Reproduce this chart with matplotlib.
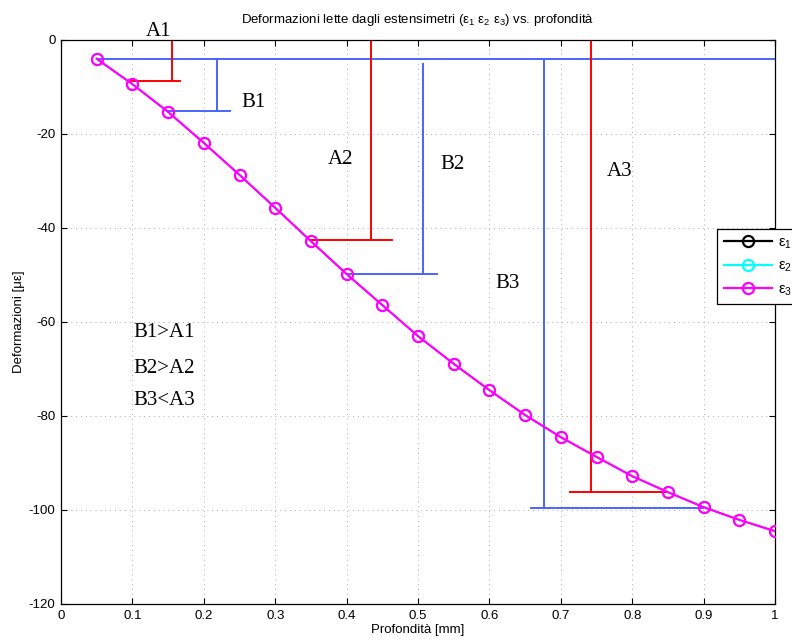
import matplotlib
matplotlib.use("Agg")
import matplotlib.pyplot as plt

plt.rcParams['font.family'] = ['Liberation Sans', 'DejaVu Sans']
plt.rcParams['mathtext.default'] = 'regular'
plt.rcParams['axes.unicode_minus'] = False

# Depth of each reading [mm]
depth = [0.05, 0.10, 0.15, 0.20, 0.25, 0.30, 0.35, 0.40, 0.45, 0.50,
         0.55, 0.60, 0.65, 0.70, 0.75, 0.80, 0.85, 0.90, 0.95, 1.00]
# Strain gauge readings [microstrain]
eps3 = [-4.0, -9.4, -15.3, -21.9, -28.7, -35.7, -42.8, -49.8, -56.4, -63.0,
        -68.9, -74.5, -79.8, -84.5, -88.7, -92.8, -96.2, -99.4, -102.1, -104.5]
eps1 = list(eps3)
eps2 = list(eps3)

# Reference levels A (red) and B (blue): x of the vertical, strain level,
# start of the vertical, and extent of the horizontal foot
a_names = ['A1', 'A2', 'A3']
a_x = [0.155, 0.434, 0.742]
a_val = [-8.8, -42.5, -96.2]
a_top = [0.0, 0.0, 0.0]
a_foot = [(0.097, 0.167), (0.350, 0.463), (0.713, 0.848)]

b_names = ['B1', 'B2', 'B3']
b_x = [0.219, 0.5075, 0.677]
b_val = [-15.0, -49.8, -99.6]
b_top = [-4.0, -5.0, -4.0]
b_foot = [(0.150, 0.237), (0.400, 0.526), (0.658, 0.899)]
b_base = -4.0

label_pos = {'A1': (0.136, 1.8), 'B1': (0.270, -13.4),
             'A2': (0.391, -25.5), 'B2': (0.549, -26.4),
             'A3': (0.783, -27.9), 'B3': (0.626, -51.9)}
notes = ['B1>A1', 'B2>A2', 'B3<A3']
notes_y = [-62.3, -69.8, -76.6]

red = '#ff0000'
blue = '#4a63ff'

fig = plt.figure(figsize=(7.92, 6.4), dpi=100)
ax = fig.add_axes([61/792, 1-604/640, (775-61)/792, (604-40)/640])

ax.plot([depth[0], 1.0], [b_base, b_base], color=blue, lw=1.4, zorder=2)
for x, v, t, (f0, f1) in zip(a_x, a_val, a_top, a_foot):
    ax.plot([x, x], [t, v], color=red, lw=1.4, zorder=2)
    ax.plot([f0, f1], [v, v], color=red, lw=1.4, zorder=2)
for x, v, t, (f0, f1) in zip(b_x, b_val, b_top, b_foot):
    ax.plot([x, x], [t, v], color=blue, lw=1.4, zorder=2)
    ax.plot([f0, f1], [v, v], color=blue, lw=1.4, zorder=2)

under = dict(marker='o', markersize=8, markerfacecolor='none',
             markeredgewidth=0.8, lw=0.8, zorder=3)
top = dict(marker='o', markersize=8, markerfacecolor='none',
           markeredgewidth=1.6, lw=1.6, zorder=4)
ax.plot(depth, eps1, color='black', label='ε$_1$', **under)
ax.plot(depth, eps2, color='cyan', label='ε$_2$', **under)
ax.plot(depth, eps3, color='magenta', label='ε$_3$', **top)

serif = ['Liberation Serif', 'DejaVu Serif']
for name in a_names + b_names:
    x, y = label_pos[name]
    ax.text(x, y, name, family=serif, fontsize=15, ha='center', va='center',
            clip_on=False)
for s, y in zip(notes, notes_y):
    ax.text(0.101, y, s, family=serif, fontsize=15, ha='left', va='center')

ax.set_xlim(0, 1)
ax.set_ylim(-120, 0)
ax.set_xticks([0, 0.1, 0.2, 0.3, 0.4, 0.5, 0.6, 0.7, 0.8, 0.9, 1])
ax.set_xticklabels(['0', '0.1', '0.2', '0.3', '0.4', '0.5', '0.6', '0.7',
                    '0.8', '0.9', '1'])
ax.set_yticks([-120, -100, -80, -60, -40, -20, 0])
ax.tick_params(direction='in', top=True, right=True, length=4, width=0.8,
               labelsize=9.5, pad=4)
ax.grid(True, color='#aaaaaa', linestyle=(0, (1, 4)), linewidth=0.7)
for sp in ax.spines.values():
    sp.set_linewidth(0.9)

ax.set_title('Deformazioni lette dagli estensimetri (ε$_1$ ε$_2$ ε$_3$) vs. profondità',
             fontsize=9.5, pad=12)
ax.set_xlabel('Profondità [mm]', fontsize=9.5, labelpad=2)
ax.set_ylabel('Deformazioni [με]', fontsize=9.5, labelpad=3)

leg = ax.legend(loc='upper left', bbox_to_anchor=(717/792, 1-229/640),
                bbox_transform=fig.transFigure, fancybox=False, shadow=False,
                edgecolor='black', framealpha=1, fontsize=10.5,
                handlelength=3.3, handletextpad=0.45, labelspacing=0.55,
                borderpad=0.45, borderaxespad=0)
leg.get_frame().set_linewidth(0.9)
for h in leg.get_lines():
    h.set_linewidth(1.6)
    h.set_markeredgewidth(1.6)

fig.savefig('out.png', dpi=100)
